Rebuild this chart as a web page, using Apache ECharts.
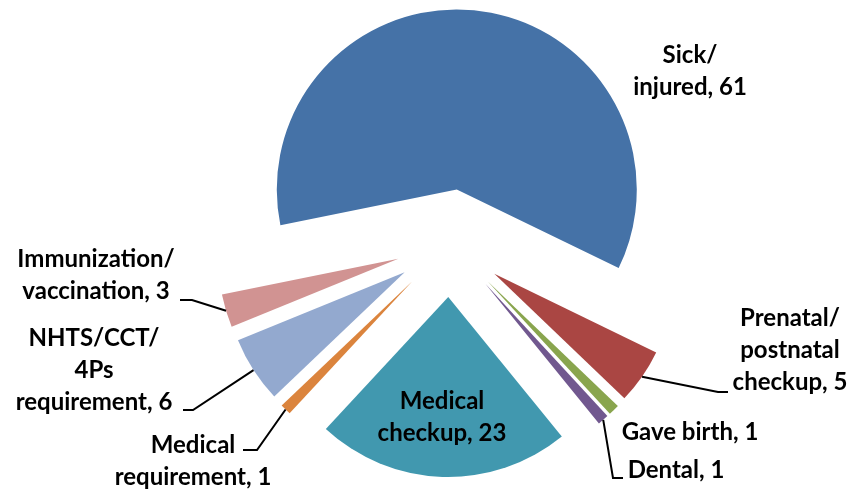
<!DOCTYPE html>
<html>
<head>
<meta charset="utf-8">
<script src="https://cdn.jsdelivr.net/npm/echarts@6/dist/echarts.min.js"></script>
<style>
  html, body { margin: 0; padding: 0; background: #fff; }
  #chart { width: 851px; height: 491px; }
</style>
</head>
<body>
<div id="chart"></div>
<script>
// categories and values (clockwise from the big slice)
const categories = [
  "Sick/\ninjured",
  "Prenatal/\npostnatal\ncheckup",
  "Gave birth",
  "Dental",
  "Medical\ncheckup",
  "Medical\nrequirement",
  "NHTS/CCT/\n4Ps\nrequirement",
  "Immunization/\nvaccination"
];
const values = [61, 5, 1, 1, 23, 1, 6, 3];
const colors = ["#4572A7", "#AA4643", "#89A54E", "#71588F", "#4198AF", "#DB843D", "#93A9CF", "#D19392"];

// pie geometry
const CX = 450, CY = 243, R = 180, OFFSET = 54, START = 191.5;

// where each label sits, and the bend/end of its leader line (null = no line)
const labelPos = [
  { x: 690, y: 71, line: null },
  { x: 790, y: 350, line: [[718, 392], [728, 392]] },
  { x: 690, y: 432, line: null },
  { x: 676, y: 470, line: [[613, 478], [623, 478]] },
  { x: 442, y: 417, line: null },
  { x: 193, y: 461, line: [[257, 450], [243, 450]] },
  { x: 94, y: 370, line: [[193, 410], [183, 410]] },
  { x: 96, y: 275, line: [[192, 300], [180, 300]] }
];

const total = values.reduce((a, b) => a + b, 0);

// point on the outer arc (exploded) at the middle of slice i
function arcMid(i) {
  let cum = 0;
  for (let k = 0; k < i; k++) cum += values[k];
  const mid = (START - (cum + values[i] / 2) / total * 360) * Math.PI / 180;
  const d = R + OFFSET;
  return [CX + d * Math.cos(mid), CY - d * Math.sin(mid)];
}

const chart = echarts.init(document.getElementById("chart"));

const pieBase = {
  type: "pie",
  center: [CX, CY],
  radius: R,
  startAngle: START,
  clockwise: true,
  avoidLabelOverlap: false
};

const option = {
  animation: false,
  series: [
    // exploded slices
    Object.assign({}, pieBase, {
      z: 2,
      selectedMode: "multiple",
      selectedOffset: OFFSET,
      label: { show: false },
      labelLine: { show: false },
      itemStyle: { borderWidth: 0 },
      data: categories.map((name, i) => ({
        name: name,
        value: values[i],
        selected: true,
        itemStyle: { color: colors[i] },
        select: { itemStyle: { color: colors[i] } }
      }))
    }),
    // labels and leader lines
    Object.assign({}, pieBase, {
      z: 10,
      silent: true,
      itemStyle: { color: "rgba(0,0,0,0)", borderWidth: 0 },
      label: {
        show: true,
        position: "outside",
        formatter: (p) => p.name + ", " + p.value,
        fontFamily: "Lato",
        fontWeight: "bold",
        fontSize: 24,
        lineHeight: 32,
        color: "#000",
        align: "center"
      },
      labelLine: {
        show: true,
        lineStyle: { color: "#000", width: 2 }
      },
      labelLayout: (params) => {
        const lp = labelPos[params.dataIndex];
        const res = { x: lp.x, y: lp.y, align: "center", verticalAlign: "middle" };
        if (lp.line) {
          res.labelLinePoints = [arcMid(params.dataIndex), lp.line[0], lp.line[1]];
        }
        return res;
      },
      data: categories.map((name, i) => ({
        name: name,
        value: values[i],
        label: { position: "outside", color: "#000" },
        labelLine: { show: !!labelPos[i].line }
      }))
    })
  ]
};

chart.setOption(option);
</script>
</body>
</html>
